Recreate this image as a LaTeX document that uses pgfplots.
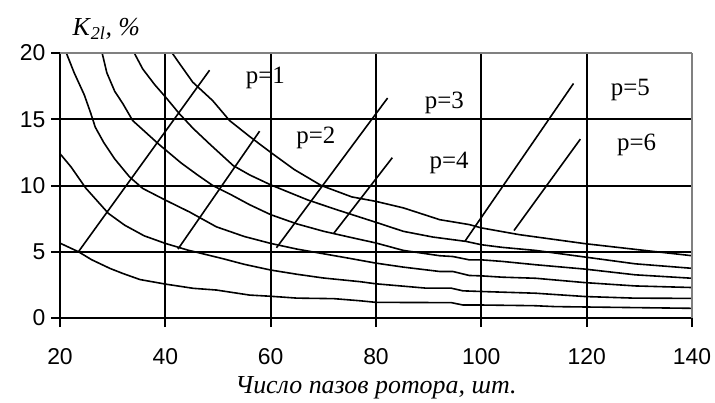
\documentclass[border=0pt]{standalone}
\usepackage{fontspec}
\setmainfont{Liberation Serif}
\newfontfamily\arial{Liberation Sans}
\usepackage{pgfplots}
\pgfplotsset{compat=1.18}

\begin{document}
\begin{tikzpicture}
\path[use as bounding box] (-60bp,-85bp) rectangle (655bp,318bp);
\begin{axis}[
  width=632bp, height=265bp, scale only axis,
  xmin=20, xmax=140, ymin=0, ymax=20,
  xtick={20,40,...,140}, ytick={0,5,...,20},
  grid=major, major grid style={black, line width=2bp},
  axis x line*=bottom, axis y line*=left,
  axis line style={black, line width=2bp, -},
  tick pos=left, tick align=outside, major tick length=9bp,
  tick style={black, line width=2bp},
  /pgf/number format/assume math mode=true,
  ticklabel style={font=\arial\fontsize{23}{26}\selectfont},
  xticklabel style={anchor=base, yshift=-37bp},
  yticklabel style={anchor=east, xshift=-2bp},
  xlabel={Число пазов ротора, шт.},
  every axis x label/.style={at={(axis description cs:0.5,0)}, anchor=base, yshift=-75bp,
    font=\fontsize{26}{30}\selectfont\itshape},
  ylabel={\textit{K}\textsubscript{\textit{2l}}\textit{, \%}},
  every axis y label/.style={at={(axis description cs:0,1)}, anchor=base west, xshift=9bp, yshift=18bp,
    font=\fontsize{26}{30}\selectfont},
  no markers,
  every axis plot post/.append style={black, solid, line width=1.6bp, mark=none},
  clip=true,
]
% p = 1
\addplot table {
20 5.65
23.5 5.0
26 4.4
29.5 3.74
32 3.35
35.2 2.9
40 2.56
45.3 2.24
49.7 2.11
56 1.73
60 1.64
65 1.5
72 1.46
77 1.3
80 1.18
94.3 1.16
96.5 0.98
100 0.98
110 0.93
114 0.86
140 0.73
};
% p = 2
\addplot table {
20 12.4
22.1 11.4
24.9 9.8
29.2 7.89
32.3 7.0
36 6.2
40 5.63
44.3 5.12
50.7 4.5
55 4.05
60 3.62
65 3.3
70 3.02
77 2.74
80 2.58
89.6 2.25
94.3 2.25
96.5 2.05
100 2.0
104 1.95
110.3 1.87
119.7 1.62
129 1.5
140 1.48
};
% p = 3
\addplot table {
21.2 20
22.7 18.5
24.6 16.85
25.8 15.5
26.7 14.4
28.3 13.25
30.4 12.0
33.2 10.65
35.7 9.78
40 8.9
44.6 8.0
49.7 6.88
55 6.15
60 5.63
65 5.2
70 4.85
75 4.5
80 4.14
85.2 3.84
92.1 3.51
94.6 3.51
97.7 3.21
100 3.18
104 3.08
110.3 3.0
119.7 2.67
129.2 2.42
140 2.3
};
% p = 4
\addplot table {
28.0 20
28.9 18.5
30.4 17.1
31.9 16.2
33.8 14.9
36.3 14.0
38.8 13.1
40 12.7
43 11.7
46.1 10.8
49 10.0
52.5 9.3
56 8.55
60 7.8
65 7.1
70 6.55
75 6.1
80 5.66
85.2 5.1
92.1 4.7
94.6 4.64
97.7 4.39
100 4.39
104 4.27
110.3 4.02
119.7 3.69
129.2 3.26
140 3.0
};
% p = 5
\addplot table {
34.1 20
35.7 18.8
38 17.6
40.2 16.6
42.7 15.4
45.3 14.3
48.5 13.1
52.9 11.5
56 10.8
60 10.05
64 9.4
67.1 8.9
72.8 8.14
80 7.22
85.2 6.54
90.8 6.11
97.1 5.78
100 5.53
104 5.33
110.3 5.10
119.7 4.60
129.2 4.09
140 3.75
};
% p = 6
\addplot table {
41.3 20
42.7 19.2
45.2 17.8
49 16.4
52.2 14.9
56 13.7
60 12.5
64.5 11.2
69.6 10.0
75.4 9.14
80 8.8
85.2 8.31
92.1 7.42
97.7 7.05
100 6.8
107.2 6.29
119.7 5.61
131 5.10
140 4.70
};
% leader lines
\addplot coordinates {(23.5,5.0) (48.4,18.7)};
\addplot coordinates {(42.4,5.2) (57.9,14.1)};
\addplot coordinates {(61.1,5.3) (82.2,16.6)};
\addplot coordinates {(72,6.4) (83.1,12.1)};
\addplot coordinates {(96.9,5.8) (117.5,17.7)};
\addplot coordinates {(106.2,6.6) (118.8,13.5)};
\begin{scope}[every node/.style={font=\fontsize{25}{28}\selectfont}]
\node at (axis cs:59.0,18.1) {p=1};
\node at (axis cs:68.6,13.6) {p=2};
\node at (axis cs:93.0,16.2) {p=3};
\node at (axis cs:93.9,11.7) {p=4};
\node at (axis cs:128.3,17.2) {p=5};
\node at (axis cs:129.5,13.1) {p=6};
\end{scope}
\end{axis}
\begin{axis}[
  width=632bp, height=265bp, scale only axis,
  xmin=20, xmax=140, ymin=0, ymax=20,
  axis x line*=top, axis y line*=right,
  axis line style={gray, line width=2.4bp, -},
  xtick=\empty, ytick=\empty,
]
\end{axis}
\end{tikzpicture}
\end{document}
